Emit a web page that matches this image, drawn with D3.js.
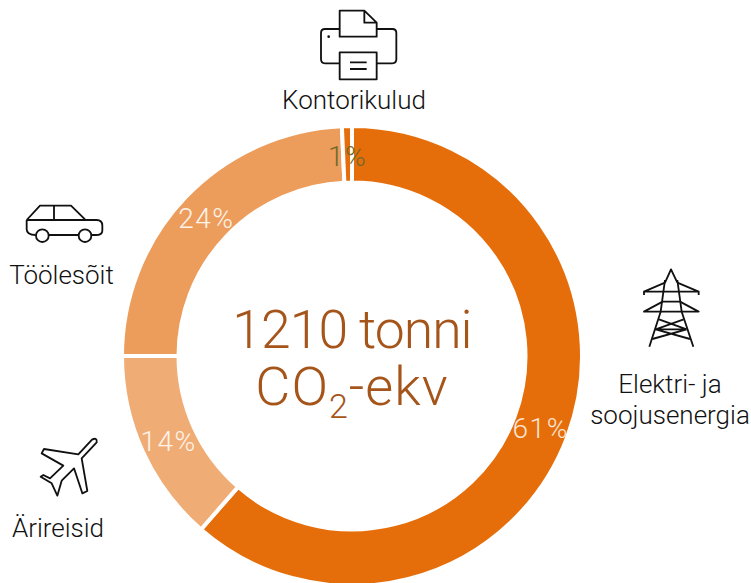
<!DOCTYPE html>
<html>
<head>
<meta charset="utf-8">
<script src="https://cdn.jsdelivr.net/npm/d3@7"></script>
<style>
  html, body { margin: 0; padding: 0; background: #fff; }
  text { font-family: Roboto, sans-serif; font-weight: 300; }
</style>
</head>
<body>
<div id="chart"></div>
<script>
const categories = ['Elektri- ja soojusenergia', 'Ärireisid', 'Töölesõit', 'Kontorikulud']
const shares = [61.4, 13.6, 24.3, 0.7]
const sliceColors = ['#e56e0b', '#f0ac75', '#ec9c5b', '#e56e0b']
const shareLabelColors = ['#fbe6d4', '#fdf3ea', '#fdf3ea', '#6f6a2a']

const width = 751
const height = 583
const center = { x: 352, y: 356 }

const svg = d3.select('#chart').append('svg')
  .attr('width', width)
  .attr('height', height)
  .style('display', 'block')

const pie = d3.pie().sort(null).value(d => d)
const arc = d3.arc().innerRadius(173.5).outerRadius(230)
const labelArc = d3.arc().innerRadius(175).outerRadius(228)

const donut = svg.append('g')
  .attr('transform', `translate(${center.x},${center.y})`)

donut.selectAll('path')
  .data(pie(shares))
  .enter()
  .append('path')
  .attr('d', arc)
  .attr('fill', (d, i) => sliceColors[i])
  .attr('stroke', '#fff')
  .attr('stroke-width', 4)

donut.selectAll('text')
  .data(pie(shares))
  .enter()
  .append('text')
  .attr('transform', d => `translate(${labelArc.centroid(d)})`)
  .attr('dy', '0.42em')
  .attr('text-anchor', 'middle')
  .attr('font-size', 28)
  .attr('letter-spacing', 1.5)
  .attr('fill', (d, i) => shareLabelColors[i])
  .text(d => Math.round(d.data) + '%')

// text in the middle of the ring
const middle = svg.append('g').attr('text-anchor', 'middle')
middle.append('text')
  .attr('x', 352).attr('y', 348)
  .attr('font-size', 53.5)
  .attr('letter-spacing', -1)
  .attr('fill', '#a5541a')
  .text('1210 tonni')
const co2 = middle.append('text')
  .attr('x', 352).attr('y', 405)
  .attr('font-size', 54)
  .attr('letter-spacing', 1)
  .attr('fill', '#a5541a')
co2.append('tspan').text('CO')
co2.append('tspan').attr('font-size', 34).attr('dy', 13).text('2')
co2.append('tspan').attr('dy', -13).text('-ekv')

// category labels
const labels = [
  { lines: ['Kontorikulud'], x: 354, y: 109 },
  { lines: ['Töölesõit'], x: 61.5, y: 284 },
  { lines: ['Ärireisid'], x: 58, y: 537 },
  { lines: ['Elektri- ja', 'soojusenergia'], x: 670, y: 393 }
]
labels.forEach(l => {
  l.lines.forEach((line, i) => {
    svg.append('text')
      .attr('x', l.x).attr('y', l.y + i * 31)
      .attr('text-anchor', 'middle')
      .attr('font-size', 26)
      .attr('fill', '#111')
      .text(line)
  })
})

// icons, traced at 3x and scaled back down
function icon(dx, dy) {
  return svg.append('g')
    .attr('transform', `translate(${dx},${dy}) scale(${1 / 3})`)
    .attr('fill', 'none')
    .attr('stroke', '#111')
    .attr('stroke-width', 5.5)
    .attr('stroke-linejoin', 'round')
}

const printer = icon(270, 0)
printer.append('path').attr('d', 'M209,110V32H283L320,68V110Z M283,32V68H320')
printer.append('path').attr('d', 'M209,87H165Q153,87 153,99V178Q153,190 165,190H209 M320,87H367Q379,87 379,99V178Q379,190 367,190H320')
printer.append('path').attr('d', 'M209,157H320V238H209Z M240,187H290 M240,207H290')
printer.append('circle').attr('cx', 176).attr('cy', 110).attr('r', 4).attr('fill', '#111').attr('stroke', 'none')

const car = icon(0, 190)
car.append('path').attr('d', 'M80,90H290Q307,90 307,107V122Q307,135 287,135H275 M80,90V118Q80,135 107,135 M147,135H235 M80,90L120,47H213L255,88 M162,47V90')
car.append('circle').attr('cx', 127).attr('cy', 137).attr('r', 19)
car.append('circle').attr('cx', 255).attr('cy', 137).attr('r', 19)

const plane = icon(0, 425)
plane.append('path').attr('d', 'M276,44Q292,36 290,52L245,100L262,198L247,205L222,130L185,167L172,212L155,175L122,155L130,150L150,160L190,122L125,85L132,72L235,88Z')

const pylon = icon(590, 260)
pylon.append('path').attr('d', 'M225,68L243,28L262,68 M225,60L212,155L178,260 M262,60L275,155L310,260')
pylon.append('path').attr('d', 'M162,105V95L225,68 M162,95H326 M326,105V95L262,68')
pylon.append('path').attr('d', 'M162,155L218,125H270L326,155Z')
pylon.append('path').attr('d', 'M207,178L290,208 M281,178L197,208H290 M197,208L300,237 M290,208L187,237')
</script>
</body>
</html>
